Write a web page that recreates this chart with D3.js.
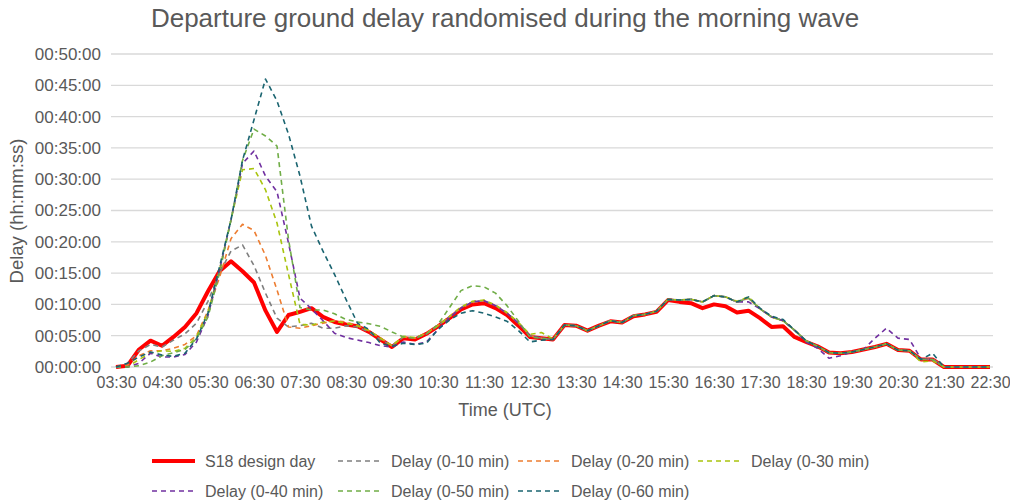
<!DOCTYPE html>
<html>
<head>
<meta charset="utf-8">
<script src="https://cdn.jsdelivr.net/npm/d3@7"></script>
<style>
body { margin: 0; background: #fff; }
text { font-family: "Liberation Sans", Arial, sans-serif; fill: #595959; }
</style>
</head>
<body>
<div class="container"></div>
<script>
// 15 minute slots, 03:30 to 22:30
var times = ["03:30","03:45","04:00","04:15","04:30","04:45","05:00","05:15","05:30","05:45",
  "06:00","06:15","06:30","06:45","07:00","07:15","07:30","07:45","08:00","08:15",
  "08:30","08:45","09:00","09:15","09:30","09:45","10:00","10:15","10:30","10:45",
  "11:00","11:15","11:30","11:45","12:00","12:15","12:30","12:45","13:00","13:15",
  "13:30","13:45","14:00","14:15","14:30","14:45","15:00","15:15","15:30","15:45",
  "16:00","16:15","16:30","16:45","17:00","17:15","17:30","17:45","18:00","18:15",
  "18:30","18:45","19:00","19:15","19:30","19:45","20:00","20:15","20:30","20:45",
  "21:00","21:15","21:30","21:45","22:00","22:15","22:30"];

var xTickLabels = ["03:30","04:30","05:30","06:30","07:30","08:30","09:30","10:30","11:30","12:30",
  "13:30","14:30","15:30","16:30","17:30","18:30","19:30","20:30","21:30","22:30"];

var yTicks = [0, 5, 10, 15, 20, 25, 30, 35, 40, 45, 50]; // minutes

// delay in minutes
var s18 = [0,0.2,2.8,4.2,3.4,4.8,6.4,8.6,12.1,15.3,
  16.9,15.3,13.5,9.0,5.6,8.3,8.8,9.4,8.0,7.2,
  6.8,6.5,5.6,4.4,3.2,4.6,4.4,5.3,6.5,7.8,
  9.2,10.0,10.2,9.4,8.3,6.6,4.8,4.6,4.4,6.7,
  6.6,5.8,6.6,7.3,7.1,8.1,8.4,8.8,10.7,10.4,
  10.2,9.4,10.0,9.7,8.7,9.0,7.8,6.4,6.5,4.8,
  4.0,3.3,2.3,2.2,2.4,2.8,3.2,3.7,2.7,2.6,
  1.2,1.2,0,0,0,0,0];

var delay10 = [0,0.6,2.6,3.6,3.2,4.3,5.3,7.0,10.5,15.0,
  18.5,19.5,16.2,11.8,7.8,6.4,6.6,7.0,6.2,6.2,
  6.6,6.4,5.6,4.4,3.4,4.8,4.6,5.3,6.6,8.0,
  9.5,10.4,10.6,9.8,8.6,7.0,5.0,4.6,4.4,6.7,
  6.6,5.8,6.6,7.4,7.1,8.2,8.4,8.9,10.8,10.7,
  10.8,10.4,11.4,11.2,10.4,11.0,9.3,8.0,7.4,5.9,
  4.2,3.3,2.3,2.2,2.4,2.8,3.2,3.7,2.7,2.6,
  1.2,1.3,0,0,0,0,0];

var delay20 = [0,0.3,1.8,2.6,2.6,3.0,3.6,5.0,9.0,14.3,
  20.5,22.8,21.8,17.8,12.3,6.4,6.2,6.6,7.0,7.4,
  7.2,6.6,5.8,4.6,3.4,4.8,4.6,5.4,6.6,8.0,
  9.4,10.3,10.6,9.8,8.6,7.0,5.0,4.6,4.4,6.7,
  6.6,5.8,6.6,7.4,7.1,8.2,8.4,8.9,10.8,10.7,
  10.8,10.4,11.4,11.2,10.4,11.0,9.3,8.0,7.4,5.9,
  4.2,3.3,2.3,2.2,2.4,2.8,3.2,3.7,2.7,2.6,
  1.2,1.2,0,0,0,0,0];

var delay30 = [0,0,1.2,2.2,2.6,2.5,3.0,4.8,8.8,15.5,
  23.5,31.5,31.7,28.3,23.0,14.8,6.8,6.7,7.2,7.3,
  7.0,6.6,5.8,4.6,3.4,4.9,4.7,5.4,6.6,8.1,
  9.6,10.5,10.7,9.9,8.7,7.1,5.2,5.5,4.5,6.7,
  6.6,5.8,6.6,7.4,7.1,8.2,8.4,8.9,10.8,10.7,
  10.8,10.4,11.4,11.2,10.5,11.2,9.3,8.0,7.4,5.9,
  4.2,3.3,2.3,2.2,2.4,2.8,3.2,3.7,2.7,2.6,
  0.8,1.0,0,0,0,0,0];

var delay40 = [0,0,0.6,2.2,1.6,1.6,2.0,4.0,8.2,15.5,
  23.5,32.5,34.5,30.5,28.0,19.8,11.0,9.3,7.4,5.4,
  4.7,4.3,3.9,3.4,3.2,4.0,3.6,4.0,6.0,7.9,
  9.4,10.4,10.6,9.8,8.6,7.0,5.0,4.6,4.4,6.7,
  6.6,5.8,6.6,7.4,7.1,8.2,8.4,8.9,10.8,10.7,
  10.8,10.4,11.4,11.2,10.4,10.4,9.3,8.0,7.4,5.9,
  4.0,3.0,1.4,1.8,2.4,2.8,4.6,6.2,4.6,4.4,
  1.3,1.2,0,0,0,0,0];

var delay50 = [0,0,0.2,0.8,1.8,2.3,2.8,4.5,8.0,15.0,
  23.5,33.0,38.0,36.9,35.3,20.4,9.5,9.1,9.1,8.5,
  7.6,7.2,6.9,6.5,5.6,4.8,4.6,5.3,6.8,9.5,
  12.2,13.0,12.8,11.8,9.8,7.3,4.8,4.6,4.4,6.7,
  6.6,5.8,6.6,7.4,7.1,8.2,8.4,8.9,10.8,10.7,
  10.8,10.4,11.4,11.2,10.4,11.0,9.3,8.0,7.4,5.9,
  4.2,3.3,2.3,2.2,2.4,2.8,3.2,3.7,2.7,2.6,
  1.2,1.2,0,0,0,0,0];

var delay60 = [0,0.6,1.6,2.4,1.9,1.7,2.2,4.5,8.6,16.0,
  23.5,33.0,39.5,46.0,42.5,37.2,30.5,22.5,18.5,14.8,
  10.8,7.0,6.0,3.8,3.3,3.8,3.6,3.8,6.0,7.5,
  8.6,9.0,8.6,8.0,7.3,5.8,4.0,4.3,4.4,6.7,
  6.6,5.8,6.6,7.4,7.1,8.2,8.4,8.9,10.8,10.7,
  10.8,10.4,11.4,11.2,10.4,11.2,9.4,8.1,7.6,5.9,
  4.2,3.3,2.3,2.2,2.4,2.8,3.2,3.7,2.7,2.6,
  1.2,2.2,0,0,0,0,0];

var seriesNames = ["S18 design day","Delay (0-10 min)","Delay (0-20 min)","Delay (0-30 min)",
  "Delay (0-40 min)","Delay (0-50 min)","Delay (0-60 min)"];
var seriesValues = [s18, delay10, delay20, delay30, delay40, delay50, delay60];
var seriesColors = ["#ff0000","#7f7f7f","#ed7d31","#a9c40e","#7030a0","#70ad47","#1a6470"];

var width = 1010, height = 502;

var svg = d3.select(".container").append("svg")
  .attr("width", width)
  .attr("height", height);

var x = d3.scalePoint().domain(times).range([116, 990]);
var y = d3.scaleLinear().domain([0, 50]).range([367, 54]);

// gridlines
svg.append("g").selectAll("line").data(yTicks).enter().append("line")
  .attr("x1", 111).attr("x2", 993)
  .attr("y1", function(d){ return y(d); })
  .attr("y2", function(d){ return y(d); })
  .attr("stroke", "#d9d9d9").attr("stroke-width", 1.3);

var pad = function(n){ return (n < 10 ? "0" : "") + n; };

var yAxis = svg.append("g")
  .attr("transform", "translate(101,0)")
  .call(d3.axisLeft(y).tickValues(yTicks).tickSize(0).tickPadding(0)
    .tickFormat(function(d){ return "00:" + pad(d) + ":00"; }));
yAxis.select(".domain").remove();
yAxis.selectAll("text").style("font-size", "17px").attr("fill", "#595959");

var xAxis = svg.append("g")
  .attr("transform", "translate(0,367)")
  .call(d3.axisBottom(x).tickValues(xTickLabels).tickSize(0).tickPadding(10));
xAxis.select(".domain").remove();
xAxis.selectAll("text").style("font-size", "16px").attr("fill", "#595959");

var line = d3.line()
  .x(function(d, i){ return x(times[i]); })
  .y(function(d){ return y(d); });

svg.append("g").selectAll("path").data(seriesValues).enter().append("path")
  .attr("d", line)
  .attr("fill", "none")
  .attr("stroke", function(d, i){ return seriesColors[i]; })
  .attr("stroke-width", function(d, i){ return i === 0 ? 4 : 1.6; })
  .attr("stroke-dasharray", function(d, i){ return i === 0 ? null : "5,4"; })
  .attr("stroke-linejoin", "round");

// titles
svg.append("text").attr("x", 505).attr("y", 27).attr("text-anchor", "middle")
  .style("font-size", "26px").text("Departure ground delay randomised during the morning wave");
svg.append("text").attr("x", 505).attr("y", 416).attr("text-anchor", "middle")
  .style("font-size", "18px").text("Time (UTC)");
svg.append("text").attr("transform", "translate(23,211) rotate(-90)").attr("text-anchor", "middle")
  .style("font-size", "18.5px").text("Delay (hh:mm:ss)");

// legend
var legendX = [152, 338, 518, 698];
var legendY = [461, 491];
var legend = svg.append("g").selectAll("g").data(seriesNames).enter().append("g")
  .attr("transform", function(d, i){
    return "translate(" + legendX[i < 4 ? i : i - 4] + "," + legendY[i < 4 ? 0 : 1] + ")";
  });
legend.append("line")
  .attr("x1", 0).attr("x2", 43).attr("y1", 0).attr("y2", 0)
  .attr("stroke", function(d, i){ return seriesColors[i]; })
  .attr("stroke-width", function(d, i){ return i === 0 ? 4 : 1.6; })
  .attr("stroke-dasharray", function(d, i){ return i === 0 ? null : "5,4"; });
legend.append("text")
  .attr("x", 53).attr("y", 0).attr("dy", "0.35em")
  .style("font-size", "16px").text(function(d){ return d; });
</script>
</body>
</html>
